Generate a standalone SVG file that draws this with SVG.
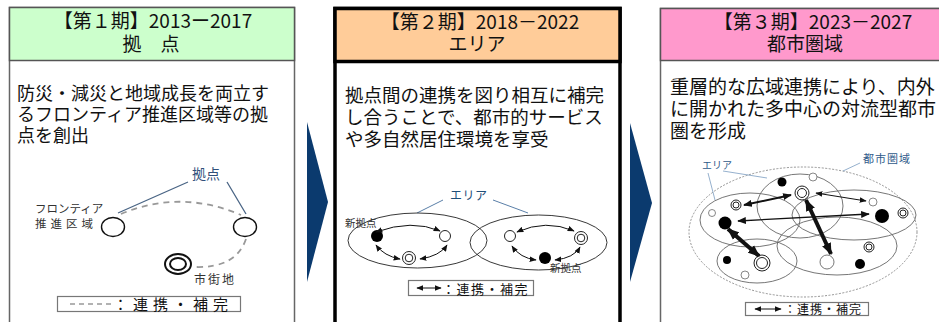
<svg xmlns="http://www.w3.org/2000/svg" width="939" height="322" viewBox="0 0 939 322">
<style>
text{font-family:"Noto Sans CJK JP","Noto Sans",sans-serif;fill:#111}
.hd{font-size:19px;text-anchor:middle}
.bd{font-size:18px}
.sm{font-size:11.5px;fill:#333}
.lab{font-size:13px;fill:#2f4f7a}
.leg{fill:#fff;stroke:#777;stroke-width:1.2}
.lead{stroke:#4a6585;stroke-width:1.3;fill:none}
.thin{fill:none;stroke:#666;stroke-width:0.9}
.blk{fill:#000}
.wht{fill:#fff;stroke:#222;stroke-width:1}
.arr{fill:none;stroke:#111}
</style>
<defs>
<marker id="ah" viewBox="0 0 10 8" refX="9" refY="4" markerWidth="7" markerHeight="6" markerUnits="userSpaceOnUse" orient="auto-start-reverse"><path d="M0,0 L10,4 L0,8 z" fill="#111"/></marker>
<marker id="ahm" viewBox="0 0 10 8" refX="9" refY="4" markerWidth="9" markerHeight="7" markerUnits="userSpaceOnUse" orient="auto-start-reverse"><path d="M0,0 L10,4 L0,8 z" fill="#111"/></marker>
<marker id="ahl" viewBox="0 0 10 8" refX="9" refY="4" markerWidth="12" markerHeight="11" markerUnits="userSpaceOnUse" orient="auto-start-reverse"><path d="M0,0 L10,4 L0,8 z" fill="#111"/></marker>
</defs>
<rect width="939" height="322" fill="#fff"/>

<g id="panel1">
<rect x="9.5" y="7.5" width="285" height="330" fill="#fff" stroke="#666" stroke-width="1.5"/>
<rect x="9.5" y="7.5" width="285" height="53" fill="#CCFFCC" stroke="#555" stroke-width="1.5"/>
<text class="hd" x="153" y="28">【第１期】2013ー2017</text>
<text class="hd" x="151" y="51">拠　点</text>
<text class="bd" x="17" y="100"><tspan x="17" y="100">防災・減災と地域成長を両立す</tspan><tspan x="17" y="121">るフロンティア推進区域等の拠</tspan><tspan x="17" y="142">点を創出</tspan></text>
<text class="lab" x="192" y="179" style="font-size:14px">拠点</text>
<path class="lead" d="M188,182 L118,213 M227,182 L246,214"/>
<path d="M121,214 Q180,189 241,215 M246,239 Q236,268 196,267" fill="none" stroke="#999" stroke-width="1.8" stroke-dasharray="6,5"/>
<ellipse cx="113" cy="227" rx="11.5" ry="9.5" fill="#fff" stroke="#111" stroke-width="1.4"/>
<ellipse cx="245" cy="227" rx="11.5" ry="9.5" fill="#fff" stroke="#111" stroke-width="1.4"/>
<ellipse cx="178" cy="264" rx="13" ry="10" fill="#fff" stroke="#111" stroke-width="2"/>
<ellipse cx="178" cy="264" rx="8" ry="6" fill="#fff" stroke="#111" stroke-width="2"/>
<text class="sm" x="35" y="213"><tspan x="35" y="213">フロンティア</tspan><tspan x="35" y="228" style="letter-spacing:4px">推進区域</tspan></text>
<text class="sm" x="194" y="284" style="font-size:12px;letter-spacing:2px">市街地</text>
<rect class="leg" x="57.5" y="296.5" width="183" height="15"/>
<line x1="70" y1="304" x2="112" y2="304" stroke="#999" stroke-width="1.5" stroke-dasharray="5,4"/>
<text x="113" y="310" style="font-size:15px;letter-spacing:5px">：連携・補完</text>
</g>

<g id="panel2">
<rect x="335" y="8.5" width="285" height="330" fill="#fff" stroke="#000" stroke-width="3.5"/>
<rect x="335" y="8.5" width="285" height="53" fill="#FFCC99" stroke="#000" stroke-width="3.5"/>
<text class="hd" x="480" y="29">【第２期】2018－2022</text>
<text class="hd" x="477" y="51">エリア</text>
<text class="bd" x="345" y="102" style="font-size:18.5px"><tspan x="345" y="102">拠点間の連携を図り相互に補完</tspan><tspan x="345" y="124">し合うことで、都市的サービス</tspan><tspan x="345" y="146">や多自然居住環境を享受</tspan></text>
<text class="lab" x="450" y="200" style="fill:#1f4e79;font-size:12px;letter-spacing:0.5px">エリア</text>
<path class="lead" d="M443,200 L417,213 M493,200 L528,213" style="stroke:#5a7fa8;stroke-width:1"/>
<ellipse class="thin" cx="417.5" cy="240.5" rx="69.5" ry="27.5" style="stroke:#222"/>
<ellipse class="thin" cx="538.5" cy="242.5" rx="68.5" ry="27.5" style="stroke:#222"/>
<circle class="blk" cx="377" cy="236" r="6"/>
<circle class="wht" cx="445" cy="236" r="5.5"/>
<circle class="wht" cx="409" cy="258" r="6.5"/>
<circle class="wht" cx="409" cy="258" r="3.8"/>
<circle class="wht" cx="510" cy="236" r="5.5"/>
<circle class="wht" cx="581" cy="238" r="6.5"/>
<circle class="wht" cx="581" cy="238" r="3.8"/>
<circle class="blk" cx="545" cy="258" r="6"/>
<text class="sm" x="345" y="227" style="font-size:10.5px">新拠点</text>
<text class="sm" x="550" y="272" style="font-size:10.5px">新拠点</text>
<rect class="leg" x="408.5" y="280.5" width="125" height="15"/>
<line class="arr" x1="417" y1="288" x2="441" y2="288" stroke-width="1" marker-start="url(#ah)" marker-end="url(#ah)"/>
<text x="442" y="294" style="font-size:13px;letter-spacing:1.5px">：連携・補完</text>
</g>

<g id="panel3">
<rect x="660.5" y="8.5" width="300" height="330" fill="#fff" stroke="#666" stroke-width="1.5"/>
<rect x="660.5" y="8.5" width="300" height="52" fill="#FF99CC" stroke="#555" stroke-width="1.5"/>
<text class="hd" x="813" y="29">【第３期】2023－2027</text>
<text class="hd" x="805" y="51">都市圏域</text>
<text class="bd" x="670" y="94" style="font-size:19px"><tspan x="670" y="94">重層的な広域連携により、内外</tspan><tspan x="670" y="116">に開かれた多中心の対流型都市</tspan><tspan x="670" y="138">圏を形成</tspan></text>
<ellipse cx="803" cy="232" rx="114" ry="65" fill="none" stroke="#888" stroke-width="0.9" stroke-dasharray="2,1.5"/>
<text class="lab" x="863" y="163" style="font-size:11px;letter-spacing:1px;fill:#2f5a8a">都市圏域</text>
<line x1="860" y1="163" x2="843" y2="171" stroke="#7a9cc0" stroke-width="0.8"/>
<text class="lab" x="702" y="169" style="font-size:10px;fill:#2f5a8a">エリア</text>
<path d="M723,171 L767,178 M708,173 L715,200" fill="none" stroke="#7a9cc0" stroke-width="0.8"/>
<ellipse class="thin" cx="800" cy="206" rx="43" ry="32"/>
<ellipse class="thin" cx="750" cy="220" rx="50" ry="27"/>
<ellipse class="thin" cx="854" cy="215" rx="62" ry="25"/>
<ellipse class="thin" cx="757" cy="261" rx="40" ry="22"/>
<ellipse class="thin" cx="837" cy="246" rx="60" ry="29"/>
<circle class="blk" cx="782" cy="182" r="4.5"/>
<circle class="wht" cx="813" cy="177" r="4" style="stroke:#555;stroke-width:0.7"/>
<circle class="wht" cx="802" cy="193" r="7"/>
<circle class="wht" cx="802" cy="193" r="4.5"/>
<circle class="wht" cx="736" cy="205" r="5"/>
<circle class="wht" cx="736" cy="205" r="3"/>
<circle class="wht" cx="712" cy="213" r="3.5" style="stroke:#555;stroke-width:0.7"/>
<circle class="blk" cx="725" cy="223" r="6.5"/>
<circle class="wht" cx="873" cy="202" r="4" style="stroke:#555;stroke-width:0.7"/>
<circle class="blk" cx="882" cy="216" r="7"/>
<circle class="wht" cx="903" cy="213" r="5"/>
<circle class="wht" cx="903" cy="213" r="3"/>
<circle class="wht" cx="869" cy="247" r="5"/>
<circle class="wht" cx="869" cy="247" r="3"/>
<circle class="blk" cx="727" cy="260" r="4"/>
<circle class="wht" cx="762" cy="263" r="8"/>
<circle class="wht" cx="762" cy="263" r="5.5"/>
<circle class="wht" cx="745" cy="275" r="4" style="stroke:#555;stroke-width:0.7"/>
<circle class="wht" cx="827" cy="262" r="7" style="stroke:#555;stroke-width:0.8"/>
<circle class="blk" cx="860" cy="264" r="5"/>
<rect class="leg" x="745.5" y="302.5" width="123" height="13"/>
<line class="arr" x1="755" y1="309" x2="781" y2="309" stroke-width="1" marker-start="url(#ah)" marker-end="url(#ah)"/>
<text x="784" y="314" style="font-size:12px;letter-spacing:1px">：連携・補完</text>
</g>

<g id="connectors">
<polygon points="307,122 328,202 307,282" fill="#0B3A6E"/>
<polygon points="630,123 652,203 630,282" fill="#0B3A6E"/>
<path class="arr" d="M376,232 Q412,219 440,231" stroke-width="1" marker-start="url(#ah)" marker-end="url(#ah)"/>
<path class="arr" d="M376,245 Q384,256 400,259" stroke-width="1" marker-start="url(#ah)" marker-end="url(#ah)"/>
<path class="arr" d="M420,259 Q440,256 447,245" stroke-width="1" marker-start="url(#ah)" marker-end="url(#ah)"/>
<path class="arr" d="M517,232 Q546,219 574,231" stroke-width="1" marker-start="url(#ah)" marker-end="url(#ah)"/>
<path class="arr" d="M512,246 Q520,258 536,260" stroke-width="1" marker-start="url(#ah)" marker-end="url(#ah)"/>
<path class="arr" d="M555,260 Q574,258 580,247" stroke-width="1" marker-start="url(#ah)" marker-end="url(#ah)"/>
<line class="arr" x1="744" y1="205" x2="791" y2="195" stroke-width="2" marker-start="url(#ahm)" marker-end="url(#ahm)"/>
<line class="arr" x1="816" y1="193" x2="866" y2="201" stroke-width="1" marker-start="url(#ah)" marker-end="url(#ah)"/>
<line class="arr" x1="738" y1="221" x2="869" y2="214" stroke-width="1.3" marker-start="url(#ahm)" marker-end="url(#ahm)"/>
<line class="arr" x1="728" y1="229" x2="759" y2="256" stroke-width="4" marker-start="url(#ahl)" marker-end="url(#ahl)"/>
<line class="arr" x1="806" y1="200" x2="831" y2="254" stroke-width="4" marker-start="url(#ahl)" marker-end="url(#ahl)"/>
</g>
</svg>
